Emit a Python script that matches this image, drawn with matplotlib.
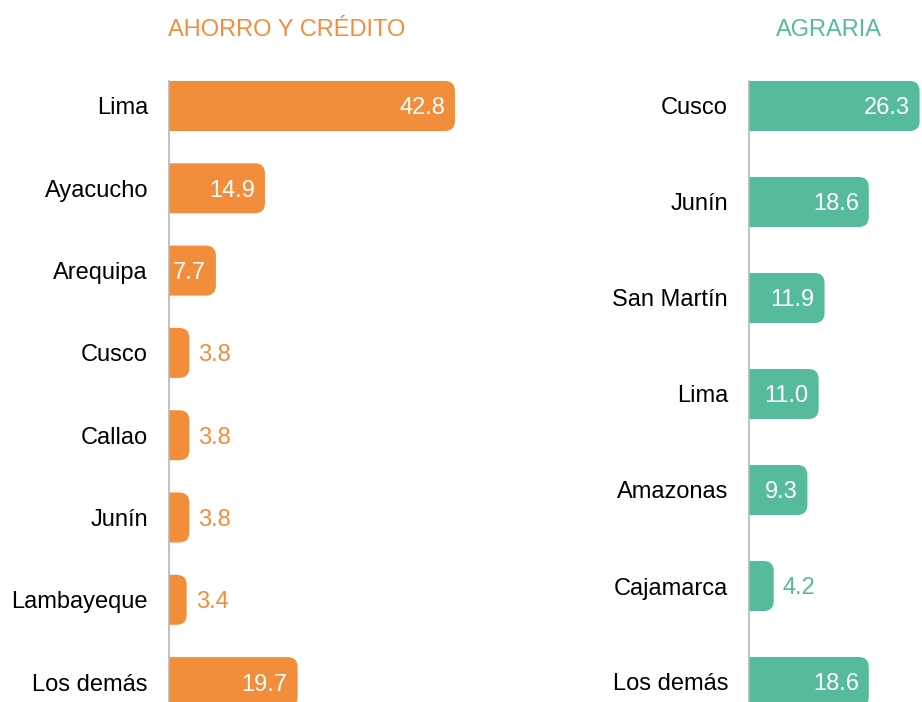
import matplotlib.pyplot as plt
from matplotlib.patches import PathPatch
from matplotlib.path import Path

plt.rcParams['font.family'] = ['Liberation Sans', 'DejaVu Sans']

# datos
ahorro_regiones = ["Lima", "Ayacucho", "Arequipa", "Cusco", "Callao", "Junín", "Lambayeque", "Los demás"]
ahorro_valores = [42.8, 14.9, 7.7, 3.8, 3.8, 3.8, 3.4, 19.7]
agraria_regiones = ["Cusco", "Junín", "San Martín", "Lima", "Amazonas", "Cajamarca", "Los demás"]
agraria_valores = [26.3, 18.6, 11.9, 11.0, 9.3, 4.2, 18.6]

naranja = "#F28E3B"
verde = "#55BB9C"
W, H = 922, 702

fig = plt.figure(figsize=(W / 100, H / 100), dpi=100)


def barra_redondeada(ax, x0, v, yc, h, rx, ry, color):
    y0, y1 = yc - h / 2, yc + h / 2
    verts = [(x0, y0), (v - rx, y0), (v, y0), (v, y0 + ry), (v, y1 - ry),
             (v, y1), (v - rx, y1), (x0, y1), (x0, y0)]
    codes = [Path.MOVETO, Path.LINETO, Path.CURVE3, Path.CURVE3, Path.LINETO,
             Path.CURVE3, Path.CURVE3, Path.LINETO, Path.CLOSEPOLY]
    ax.add_patch(PathPatch(Path(verts, codes), fc=color, ec="none", clip_on=False))


def panel(x_eje, px_x, x_lo, y_top, paso, regiones, valores, color):
    x1 = W
    xmax = x_lo + (x1 - x_eje) / px_x
    ax = fig.add_axes([x_eje / W, 0, (x1 - x_eje) / W, (H - y_top) / H])
    alto_px = 50
    top = -(alto_px / 2) / paso
    bottom = (H - (y_top + alto_px / 2)) / paso
    ax.set_xlim(x_lo, xmax)
    ax.set_ylim(bottom, top)
    rx = 10 / px_x
    ry = 10 / paso
    h = alto_px / paso
    for i, (reg, v) in enumerate(zip(regiones, valores)):
        barra_redondeada(ax, x_lo, v, i, h, rx, ry, color)
        if v > 5:
            ax.text(v - 10 / px_x, i, f"{v:.1f}", ha="right", va="center_baseline",
                    color="white", fontsize=17, clip_on=False)
        else:
            ax.text(v + 9 / px_x, i, f"{v:.1f}", ha="left", va="center_baseline",
                    color=color, fontsize=17, clip_on=False)
        ax.text(x_lo - 21 / px_x, i, reg, ha="right", va="center_baseline",
                color="black", fontsize=17)
    for s in ["top", "right", "bottom"]:
        ax.spines[s].set_visible(False)
    ax.spines["left"].set_color("#B3B7BB")
    ax.spines["left"].set_linewidth(1.2)
    ax.set_xticks([])
    ax.set_yticks([])
    ax.patch.set_visible(False)
    return ax


panel(169, 6.81, 0.81, 81, 82.3, ahorro_regiones, ahorro_valores, naranja)
panel(749, 6.6, 0.45, 81, 96.0, agraria_regiones, agraria_valores, verde)

fig.text(168 / W, 1 - 30 / H, "AHORRO Y CRÉDITO", color=naranja, fontsize=17, ha="left", va="center")
fig.text(829 / W, 1 - 30 / H, "AGRARIA", color=verde, fontsize=17, ha="center", va="center")

fig.savefig("out.png", dpi=100)
